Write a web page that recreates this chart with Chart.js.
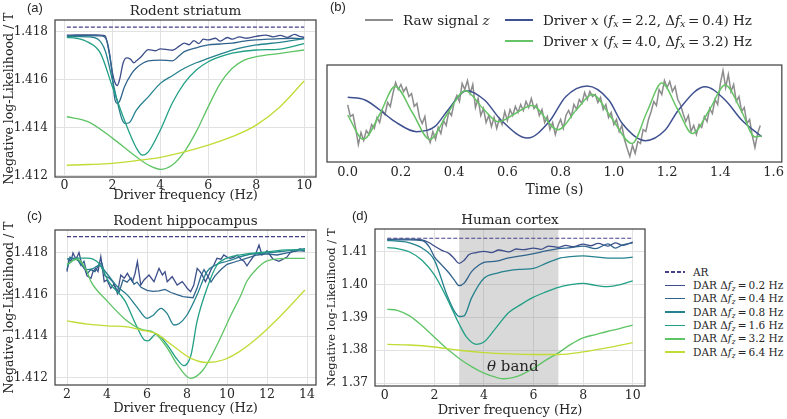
<!DOCTYPE html>
<html>
<head>
<meta charset="utf-8">
<script src="https://cdn.jsdelivr.net/npm/chart.js@4.4.0/dist/chart.umd.min.js"></script>
<style>
  html, body { margin: 0; padding: 0; background: #fff; }
  #fig { position: relative; width: 787px; height: 419px; overflow: hidden;
         font-family: "DejaVu Serif", serif; color: #262626; }
  canvas { position: absolute; }
  .tag { position: absolute; font-family: "Liberation Sans", Arial, sans-serif; font-size: 13px; line-height: 14px; }
  .txt { position: absolute; white-space: nowrap; }
  .ln { position: absolute; height: 1.6px; }
  sub { font-size: 70%; vertical-align: -0.25em; line-height: 0; }
  .legb { font-size: 13.5px; line-height: 16px; }
  .legd { font-size: 10.5px; line-height: 13px; }
</style>
</head>
<body>
<div id="fig">
  <canvas id="cA" width="320" height="205" style="left:0;top:0"></canvas>
  <canvas id="cB" width="467" height="150" style="left:320px;top:50px"></canvas>
  <canvas id="cC" width="320" height="214" style="left:0;top:205px"></canvas>
  <canvas id="cD" width="330" height="214" style="left:320px;top:205px"></canvas>

  <div class="tag" style="left:27px;top:1px">(a)</div>
  <div class="tag" style="left:330px;top:0px">(b)</div>
  <div class="tag" style="left:27px;top:209px">(c)</div>
  <div class="tag" style="left:352px;top:209px">(d)</div>

  <!-- legend of panel (b) -->
  <div class="ln" style="left:365px;top:19px;width:28px;background:#8c8c8c"></div>
  <div class="txt legb" style="left:403px;top:12px">Raw signal <i>z</i></div>
  <div class="ln" style="left:505px;top:19px;width:28px;background:#3f5190"></div>
  <div class="txt legb" style="left:543px;top:12px">Driver <i>x</i> (<i>f<sub>x</sub></i>&#8201;=&#8201;2.2, Δ<i>f<sub>x</sub></i>&#8201;=&#8201;0.4) Hz</div>
  <div class="ln" style="left:505px;top:40px;width:28px;background:#66c466"></div>
  <div class="txt legb" style="left:543px;top:33px">Driver <i>x</i> (<i>f<sub>x</sub></i>&#8201;=&#8201;4.0, Δ<i>f<sub>x</sub></i>&#8201;=&#8201;3.2) Hz</div>

  <!-- legend of panel (d), filled by script -->
  <div id="legD"></div>

  <div class="txt" style="left:487px;top:357px;font-size:15px;line-height:18px"><i>θ</i> band</div>
</div>

<script>
var ink = '#262626';
var gridCol = '#e2e2e2';
var arColor = '#45408a';
var darColors = ['#3d4e8a', '#31648d', '#25828e', '#22a085', '#5ec465', '#c0dc35'];
var bandwidths = ['0.2', '0.4', '0.8', '1.6', '3.2', '6.4'];

/* (a) Rodent striatum : [driver frequency Hz, NLL / T] */
var striatumAR = [[0.1, 1.41818], [10, 1.41818]];
var striatum02 = [[0.1,1.41785],[0.5,1.41786],[1.0,1.41786],[1.5,1.41785],[1.7,1.41782],[1.85,1.4172],[2.0,1.4163],[2.1,1.4159],[2.2,1.41575],[2.3,1.416],[2.45,1.4167],[2.6,1.4169],[2.75,1.41685],[2.9,1.4167],[3.0,1.41678],[3.2,1.41695],[3.5,1.41725],[3.8,1.4172],[4.0,1.41728],[4.3,1.41725],[4.5,1.41722],[4.8,1.4174],[5.0,1.41752],[5.2,1.41745],[5.4,1.41762],[5.6,1.4175],[5.8,1.41768],[6.0,1.41765],[6.3,1.41772],[6.5,1.4176],[6.8,1.41775],[7.0,1.41768],[7.3,1.41778],[7.6,1.41772],[8.0,1.4178],[8.4,1.41785],[8.7,1.41778],[9.0,1.41784],[9.3,1.41776],[9.6,1.41788],[9.8,1.4178],[10.0,1.41776]];
var striatum04 = [[0.1,1.41782],[1.0,1.41783],[1.6,1.41781],[1.8,1.4175],[1.95,1.4166],[2.1,1.4152],[2.2,1.41501],[2.3,1.4151],[2.5,1.41569],[2.8,1.41625],[3.0,1.41648],[3.3,1.4167],[3.5,1.41678],[4.0,1.41681],[4.5,1.41678],[4.8,1.417],[5.0,1.41716],[5.5,1.41732],[6.0,1.41744],[6.5,1.41748],[7.0,1.41752],[7.5,1.4176],[8.0,1.41765],[8.5,1.41768],[9.0,1.4177],[9.5,1.41772],[10.0,1.4177]];
var striatum08 = [[0.1,1.4178],[1.0,1.41778],[1.4,1.41768],[1.7,1.4172],[2.0,1.41598],[2.2,1.4151],[2.4,1.41435],[2.55,1.41417],[2.7,1.4142],[3.0,1.41473],[3.5,1.41528],[4.0,1.41584],[4.5,1.41616],[5.0,1.41647],[5.5,1.4167],[6.0,1.41688],[6.5,1.41706],[7.0,1.41723],[7.5,1.41735],[8.0,1.41744],[9.0,1.41755],[10.0,1.4177]];
var striatum16 = [[0.1,1.41775],[0.5,1.41772],[1.0,1.41755],[1.5,1.4171],[2.0,1.4157],[2.5,1.41431],[3.0,1.41315],[3.25,1.41285],[3.5,1.41299],[4.0,1.4139],[4.5,1.41502],[5.0,1.41585],[5.5,1.4164],[6.0,1.41674],[6.5,1.41695],[7.0,1.4171],[8.0,1.41723],[9.0,1.41727],[10.0,1.4175]];
var striatum32 = [[0.1,1.41445],[1.0,1.41424],[2.0,1.41356],[3.0,1.41278],[3.5,1.41244],[4.0,1.41226],[4.5,1.41244],[5.0,1.41299],[5.5,1.41383],[6.0,1.41487],[6.5,1.41584],[7.0,1.41647],[7.5,1.41681],[8.0,1.41695],[9.0,1.41709],[10.0,1.41723]];
var striatum64 = [[0.1,1.41243],[1.0,1.41246],[2.0,1.41251],[3.0,1.41262],[4.0,1.41276],[5.0,1.41299],[6.0,1.41327],[7.0,1.41362],[8.0,1.4141],[9.0,1.41487],[10.0,1.41594]];

/* (c) Rodent hippocampus */
var hippoAR = [[2.0, 1.41878], [13.9, 1.41878]];
var hippo02 = [[2.0,1.4171],[2.1,1.4177],[2.2,1.4176],[2.3,1.418],[2.45,1.4177],[2.6,1.41802],[2.75,1.4174],[2.9,1.4172],[3.0,1.4169],[3.2,1.41678],[3.3,1.4171],[3.44,1.41726],[3.55,1.4171],[3.69,1.41782],[3.86,1.41662],[4.0,1.4167],[4.19,1.4163],[4.35,1.4165],[4.52,1.41606],[4.69,1.41694],[4.86,1.41678],[5.02,1.41702],[5.15,1.4168],[5.27,1.41662],[5.4,1.417],[5.52,1.41758],[5.69,1.41646],[5.85,1.4167],[6.1,1.41694],[6.35,1.41662],[6.6,1.41726],[6.77,1.41694],[6.9,1.4171],[7.01,1.41662],[7.26,1.41686],[7.51,1.41646],[7.76,1.41662],[7.9,1.41645],[8.01,1.4163],[8.18,1.41614],[8.34,1.41646],[8.51,1.41726],[8.65,1.4171],[8.76,1.41694],[8.92,1.41662],[9.09,1.41694],[9.2,1.4172],[9.34,1.41742],[9.5,1.41774],[9.7,1.4177],[9.84,1.4179],[10.0,1.4178],[10.17,1.41774],[10.35,1.4178],[10.5,1.4179],[10.7,1.4177],[10.85,1.4176],[11.0,1.41738],[11.15,1.4176],[11.3,1.4178],[11.45,1.418],[11.6,1.41838],[11.75,1.4179],[11.9,1.418],[12.0,1.4181],[12.15,1.4179],[12.3,1.4177],[12.45,1.41765],[12.6,1.4176],[12.8,1.4177],[13.0,1.4178],[13.15,1.418],[13.3,1.4181],[13.5,1.4181],[13.65,1.4182],[13.8,1.4181],[13.9,1.4181]];
var hippo04 = [[2.0,1.4172],[2.15,1.4178],[2.3,1.4177],[2.5,1.41775],[2.7,1.4174],[2.85,1.4176],[3.0,1.417],[3.2,1.4172],[3.4,1.4171],[3.6,1.41745],[3.75,1.4175],[3.9,1.4169],[4.1,1.4168],[4.3,1.4166],[4.45,1.4163],[4.6,1.4161],[4.8,1.4167],[5.0,1.4166],[5.2,1.4168],[5.35,1.4165],[5.5,1.4166],[5.7,1.41635],[6.0,1.4162],[6.3,1.41615],[6.6,1.41618],[6.9,1.41625],[7.2,1.4161],[7.5,1.416],[7.8,1.4159],[8.0,1.41588],[8.3,1.41585],[8.5,1.4163],[8.7,1.4169],[8.85,1.4172],[9.0,1.41695],[9.2,1.4166],[9.4,1.4169],[9.7,1.4172],[10.0,1.41745],[10.5,1.4176],[11.0,1.41775],[11.5,1.4179],[12.0,1.41795],[12.5,1.4179],[13.0,1.418],[13.5,1.4181],[13.9,1.4181]];
var hippo08 = [[2.0,1.4177],[2.3,1.41775],[2.6,1.4176],[3.0,1.4172],[3.3,1.41725],[3.6,1.4174],[4.0,1.417],[4.5,1.4164],[5.0,1.416],[5.5,1.4154],[6.0,1.41486],[6.3,1.415],[6.7,1.41534],[7.0,1.4151],[7.35,1.41454],[7.6,1.4146],[8.0,1.41502],[8.5,1.41598],[9.0,1.4171],[9.5,1.41745],[10.0,1.4176],[11.0,1.4179],[12.0,1.418],[13.0,1.4181],[13.9,1.4182]];
var hippo16 = [[2.0,1.4174],[2.5,1.41775],[3.0,1.41775],[3.3,1.4177],[3.6,1.4175],[4.1,1.4166],[4.9,1.4157],[5.4,1.41465],[5.9,1.4138],[6.05,1.41378],[6.45,1.4141],[7.0,1.4136],[7.5,1.4129],[7.85,1.41259],[8.2,1.4131],[8.5,1.4147],[9.0,1.4163],[9.5,1.41742],[10.0,1.41775],[11.0,1.41795],[12.0,1.41805],[13.0,1.41815],[13.9,1.41815]];
var hippo32 = [[2.0,1.41745],[2.5,1.4177],[3.0,1.4171],[3.2,1.41662],[4.0,1.4157],[4.9,1.41482],[5.7,1.41434],[6.35,1.41418],[7.0,1.41346],[7.5,1.41266],[8.17,1.41198],[8.8,1.41238],[9.5,1.41358],[10.2,1.41502],[10.7,1.41598],[11.0,1.41665],[11.5,1.41725],[12.0,1.41762],[13.0,1.41774],[13.9,1.41774]];
var hippo64 = [[2.0,1.41474],[3.0,1.41458],[4.0,1.4145],[5.0,1.41445],[5.7,1.4143],[6.5,1.4141],[7.3,1.41354],[8.2,1.41294],[9.0,1.41274],[9.8,1.41286],[10.6,1.41325],[11.5,1.4139],[12.5,1.4148],[13.9,1.41622]];

/* (d) Human cortex */
var cortexAR = [[0.1, 1.41418], [10, 1.41418]];
var cortex02 = [[0.1,1.4138],[0.5,1.4139],[1.0,1.4139],[1.5,1.4137],[1.8,1.4128],[2.0,1.4118],[2.3,1.4105],[2.6,1.4095],[2.8,1.408],[3.0,1.4065],[3.2,1.4075],[3.4,1.4092],[3.7,1.4098],[4.0,1.4102],[4.3,1.4098],[4.6,1.4106],[5.0,1.41],[5.3,1.4109],[5.6,1.4107],[6.0,1.4112],[6.3,1.4108],[6.6,1.4118],[7.0,1.4114],[7.3,1.412],[7.6,1.4116],[8.0,1.4124],[8.3,1.4119],[8.6,1.4126],[9.0,1.4118],[9.3,1.4128],[9.6,1.412],[10.0,1.413]];
var cortex04 = [[0.1,1.4137],[1.0,1.4137],[1.5,1.4135],[1.8,1.4115],[2.0,1.4085],[2.3,1.406],[2.6,1.4035],[2.8,1.4015],[3.0,1.3997],[3.2,1.4005],[3.5,1.404],[3.8,1.406],[4.0,1.4068],[4.5,1.4072],[5.0,1.4082],[5.5,1.4088],[6.0,1.4095],[6.5,1.4103],[7.0,1.411],[7.5,1.4113],[8.0,1.4118],[8.5,1.411],[9.0,1.4125],[9.3,1.4112],[9.6,1.4122],[10.0,1.4128]];
var cortex08 = [[0.1,1.4135],[0.5,1.4133],[1.0,1.4128],[1.5,1.4112],[2.0,1.4075],[2.5,1.397],[2.8,1.392],[3.0,1.3903],[3.2,1.3905],[3.5,1.396],[4.0,1.402],[4.5,1.4035],[5.0,1.4043],[5.5,1.4047],[6.0,1.405],[6.5,1.4065],[7.0,1.408],[7.5,1.4086],[8.0,1.4088],[8.5,1.4085],[9.0,1.4081],[9.5,1.4081],[10.0,1.4084]];
var cortex16 = [[0.1,1.4113],[0.5,1.411],[1.0,1.41],[1.5,1.4075],[2.0,1.403],[2.5,1.396],[3.0,1.388],[3.3,1.384],[3.7,1.3818],[4.0,1.3825],[4.5,1.387],[5.0,1.3915],[5.5,1.394],[6.0,1.3962],[6.5,1.3978],[7.0,1.3992],[7.5,1.4],[8.0,1.4004],[8.5,1.3998],[9.0,1.3994],[9.5,1.4],[10.0,1.4012]];
var cortex32 = [[0.1,1.3925],[0.5,1.3922],[1.0,1.3905],[1.5,1.3875],[2.0,1.384],[2.5,1.3805],[3.0,1.3775],[3.5,1.375],[4.0,1.373],[4.5,1.3717],[4.8,1.3713],[5.2,1.3717],[5.5,1.3725],[6.0,1.3745],[6.5,1.377],[7.0,1.3792],[7.5,1.3818],[8.0,1.3838],[8.5,1.3848],[9.0,1.3858],[9.5,1.3867],[10.0,1.3877]];
var cortex64 = [[0.1,1.3818],[1.0,1.3816],[2.0,1.381],[3.0,1.38],[4.0,1.3793],[5.0,1.3789],[6.0,1.3787],[7.0,1.3787],[8.0,1.3795],[9.0,1.3808],[10.0,1.3823]];
var thetaBand = [3, 7];

/* (b) signals, raw sampled every 10 ms from t = 0 */
var rawStep = 0.01;
var rawSignal = [
  0.43,-0.15,-0.05,-0.75,-1.55,-0.95,-1.35,-0.85,-1.05,-0.55,
  -0.75,-0.2,-0.45,0.15,-0.05,0.55,0.35,1.0,1.55,1.2,
  1.45,1.1,1.3,0.85,1.0,0.35,0.5,-0.2,-0.5,-0.15,
  -1.1,-1.45,-0.9,-1.3,-0.7,-1.0,-0.35,-0.6,0.1,-0.1,
  0.55,0.9,0.6,1.5,1.2,1.65,1.0,1.45,0.3,0.75,
  -0.1,0.25,-0.45,-0.1,-0.65,-0.2,-0.75,-0.25,-0.55,0.1,
  -0.35,0.2,-0.1,0.35,0.05,0.45,0.15,0.6,0.3,0.75,
  0.25,0.45,-0.1,0.2,-0.45,-0.15,-0.8,-0.45,-1.05,-0.6,
  -0.3,-0.75,-0.1,0.15,-0.15,0.45,0.2,0.7,0.5,1.05,
  0.7,1.1,0.85,0.95,0.55,0.8,0.2,0.45,-0.2,0.05,
  -0.55,-0.3,-0.9,-0.6,-1.3,-1.75,-2.15,-1.6,-2.0,-1.4,
  -1.5,-0.8,-0.9,-0.3,0.1,0.6,0.4,1.2,0.95,1.65,
  1.3,1.6,1.1,1.35,0.7,0.45,0.0,-0.4,-0.1,-0.9,
  -0.6,-1.05,-0.55,-0.7,-0.15,-0.4,0.25,0.0,0.7,0.45,
  1.5,2.15,1.3,1.95,1.1,1.45,0.6,0.85,0.1,0.3,
  -0.5,-0.3,-1.1,-1.7,-1.0,-0.6
];
var driverSlow = [[0,0.81],[0.065,0.675],[0.121,0.175],[0.178,-0.41],[0.259,-0.91],[0.327,-0.66],[0.377,0.175],[0.446,1.14],[0.514,0.675],[0.576,-0.325],[0.676,-1.23],[0.757,-0.41],[0.819,0.84],[0.9,1.375],[0.981,0.675],[1.031,-0.49],[1.118,-1.36],[1.193,-0.825],[1.243,0.175],[1.343,1.34],[1.418,0.675],[1.48,-0.325],[1.555,-1.16]];
var driverFast = [[0,-0.08],[0.059,-1.29],[0.12,-0.05],[0.178,1.35],[0.245,0.0],[0.308,-1.3],[0.375,0.0],[0.442,1.14],[0.505,0.3],[0.566,-0.41],[0.63,0.0],[0.692,0.4],[0.79,-0.81],[0.86,0.2],[0.919,0.95],[0.99,-0.2],[1.068,-1.5],[1.125,0.1],[1.18,1.52],[1.24,0.2],[1.295,-1.0],[1.36,0.2],[1.418,1.43],[1.48,0.1],[1.53,-1.17],[1.555,-1.12]];
var timeTicks = [0, 0.2, 0.4, 0.6, 0.8, 1.0, 1.2, 1.4, 1.6];

Chart.defaults.font.family = '"DejaVu Serif", serif';
Chart.defaults.color = ink;

function pts(arr) {
  return arr.map(function(p) { return {x: p[0], y: p[1]}; });
}

// frame round the plot area, all four sides
var framePlugin = {
  id: 'frame',
  afterDraw: function(chart) {
    var a = chart.chartArea, ctx = chart.ctx;
    ctx.save();
    ctx.strokeStyle = '#444';
    ctx.lineWidth = 1.25;
    ctx.strokeRect(a.left, a.top, a.right - a.left, a.bottom - a.top);
    ctx.restore();
  }
};

// grey span (theta band) in panel d
var bandPlugin = {
  id: 'band',
  beforeDatasetsDraw: function(chart) {
    var a = chart.chartArea, x = chart.scales.x, ctx = chart.ctx;
    var x0 = x.getPixelForValue(thetaBand[0]), x1 = x.getPixelForValue(thetaBand[1]);
    ctx.save();
    ctx.fillStyle = 'rgba(128,128,128,0.3)';
    ctx.fillRect(x0, a.top, x1 - x0, a.bottom - a.top);
    ctx.restore();
  }
};

function curveSets(ar, curves, noisy) {
  var sets = [{data: pts(ar), borderColor: arColor, borderWidth: 1.2, borderDash: [4, 2], order: 7}];
  for (var i = 0; i < curves.length; i++) {
    sets.push({
      data: pts(curves[i]),
      borderColor: darColors[i],
      borderWidth: 1.3,
      order: 6 - i,
      cubicInterpolationMode: noisy.indexOf(i) >= 0 ? 'default' : 'monotone',
      tension: 0
    });
  }
  return sets;
}

function opts(p) {
  var fixTicks = function(list) {
    return function(s) { s.ticks = list.map(function(v) { return {value: v}; }); };
  };
  return {
    responsive: false,
    animation: false,
    events: [],
    layout: {padding: {left: p.padLeft || 0, right: p.padRight || 0, top: p.padTop || 0, bottom: 0}},
    elements: {point: {radius: 0}},
    plugins: {
      legend: {display: false},
      tooltip: {enabled: false},
      title: {display: !!p.title, text: p.title, color: ink, fullSize: false,
              font: {size: 13.5, weight: 'normal'}, padding: p.titlePad}
    },
    scales: {
      x: {
        type: 'linear', min: p.xMin, max: p.xMax,
        afterBuildTicks: fixTicks(p.xTicks),
        afterFit: function(s) { s.height = p.xHeight; },
        ticks: {autoSkip: false, maxRotation: 0, padding: p.xTickPad, font: {size: p.tickSize || 12.5}, color: ink,
                callback: function(v) { return v.toFixed(p.xDigits); }},
        grid: {display: p.grid, color: gridCol, lineWidth: 1, drawTicks: false},
        border: {display: false},
        title: {display: true, text: p.xLabel, color: ink, font: {size: p.xLabelSize || 13},
                padding: {top: 0, bottom: p.xTitlePad}}
      },
      y: p.yTicks ? {
        type: 'linear', min: p.yMin, max: p.yMax,
        afterBuildTicks: fixTicks(p.yTicks),
        afterFit: function(s) { s.width = p.yWidth; },
        ticks: {autoSkip: false, padding: 7, font: {size: 12}, color: ink,
                callback: function(v) { return v.toFixed(p.yDigits); }},
        grid: {display: true, color: gridCol, lineWidth: 1, drawTicks: false},
        border: {display: false},
        title: {display: true, text: 'Negative log-Likelihood / T', color: ink, font: {size: p.yLabelSize || 12.5},
                padding: {top: p.yTitlePad, bottom: 0}}
      } : {display: false, min: p.yMin, max: p.yMax}
    }
  };
}

// (a)
new Chart(document.getElementById('cA'), {
  type: 'line',
  data: {datasets: curveSets(striatumAR, [striatum02, striatum04, striatum08, striatum16, striatum32, striatum64], [])},
  options: opts({
    title: 'Rodent striatum', titlePad: {top: 2.9, bottom: 0.9}, padRight: 4,
    xMin: -0.395, xMax: 10.495, xTicks: [0, 2, 4, 6, 8, 10], xDigits: 0, xHeight: 28, xTickPad: 1,
    xLabel: 'Driver frequency (Hz)', xTitlePad: 1.2, grid: true,
    yMin: 1.41194, yMax: 1.41848, yTicks: [1.412, 1.414, 1.416, 1.418], yDigits: 3, yWidth: 55, yTitlePad: 2.2
  }),
  plugins: [framePlugin]
});

// (c)
new Chart(document.getElementById('cC'), {
  type: 'line',
  data: {datasets: curveSets(hippoAR, [hippo02, hippo04, hippo08, hippo16, hippo32, hippo64], [0, 1])},
  options: opts({
    title: 'Rodent hippocampus', titlePad: {top: 7.9, bottom: 0.9}, padRight: 4,
    xMin: 1.40, xMax: 14.45, xTicks: [2, 4, 6, 8, 10, 12, 14], xDigits: 0, xHeight: 34, xTickPad: 2,
    xLabel: 'Driver frequency (Hz)', xTitlePad: 2.2, grid: true,
    yMin: 1.41166, yMax: 1.4191, yTicks: [1.412, 1.414, 1.416, 1.418], yDigits: 3, yWidth: 55, yTitlePad: 2.2
  }),
  plugins: [framePlugin]
});

// (d)
new Chart(document.getElementById('cD'), {
  type: 'line',
  data: {datasets: curveSets(cortexAR, [cortex02, cortex04, cortex08, cortex16, cortex32, cortex64], [])},
  options: opts({
    title: 'Human cortex', titlePad: {top: 6.9, bottom: 0.9}, padRight: 5,
    xMin: -0.395, xMax: 10.495, xTicks: [0, 2, 4, 6, 8, 10], xDigits: 0, xHeight: 33, xTickPad: 2,
    xLabel: 'Driver frequency (Hz)', xTitlePad: 0.5, grid: true,
    yMin: 1.36909, yMax: 1.41701, yTicks: [1.37, 1.38, 1.39, 1.40, 1.41], yDigits: 2, yWidth: 55,
    yTitlePad: 5.5, yLabelSize: 11.5
  }),
  plugins: [bandPlugin, framePlugin]
});

// (b)
var rawPts = rawSignal.map(function(v, i) { return [i * rawStep, v]; });
new Chart(document.getElementById('cB'), {
  type: 'line',
  data: {datasets: [
    {data: pts(rawPts), borderColor: '#8c8c8c', borderWidth: 1.5, tension: 0, order: 3},
    {data: pts(driverSlow), borderColor: '#3f5190', borderWidth: 1.5, cubicInterpolationMode: 'monotone', order: 2},
    {data: pts(driverFast), borderColor: '#66c466', borderWidth: 1.5, cubicInterpolationMode: 'monotone', order: 1}
  ]},
  options: opts({
    padLeft: 7, padRight: 2, padTop: 15,
    xMin: -0.0777, xMax: 1.631, xTicks: timeTicks, xDigits: 1, xHeight: 38, xTickPad: 3, tickSize: 13,
    xLabel: 'Time (s)', xLabelSize: 14, xTitlePad: 1.5, grid: false,
    yMin: -2.425, yMax: 2.425
  }),
  plugins: [framePlugin]
});

// legend of (d)
var legD = document.getElementById('legD');
var rows = [{label: 'AR', color: arColor, dash: true}];
bandwidths.forEach(function(b, i) { rows.push({label: b, color: darColors[i]}); });
rows.forEach(function(r, i) {
  var cy = 272 + i * 13.35;
  var line = document.createElement('div');
  line.className = 'ln';
  line.style.left = '665px';
  line.style.width = '20px';
  line.style.top = (cy - 0.8) + 'px';
  line.style.background = r.dash
    ? 'repeating-linear-gradient(90deg,' + r.color + ' 0 4px, transparent 4px 6px)'
    : r.color;
  legD.appendChild(line);
  var t = document.createElement('div');
  t.className = 'txt legd';
  t.style.left = '693px';
  t.style.top = (cy - 6.5) + 'px';
  t.innerHTML = r.dash ? 'AR' : 'DAR Δ<i>f<sub>z</sub></i>&#8201;=&#8201;' + r.label + ' Hz';
  legD.appendChild(t);
});
</script>
</body>
</html>
